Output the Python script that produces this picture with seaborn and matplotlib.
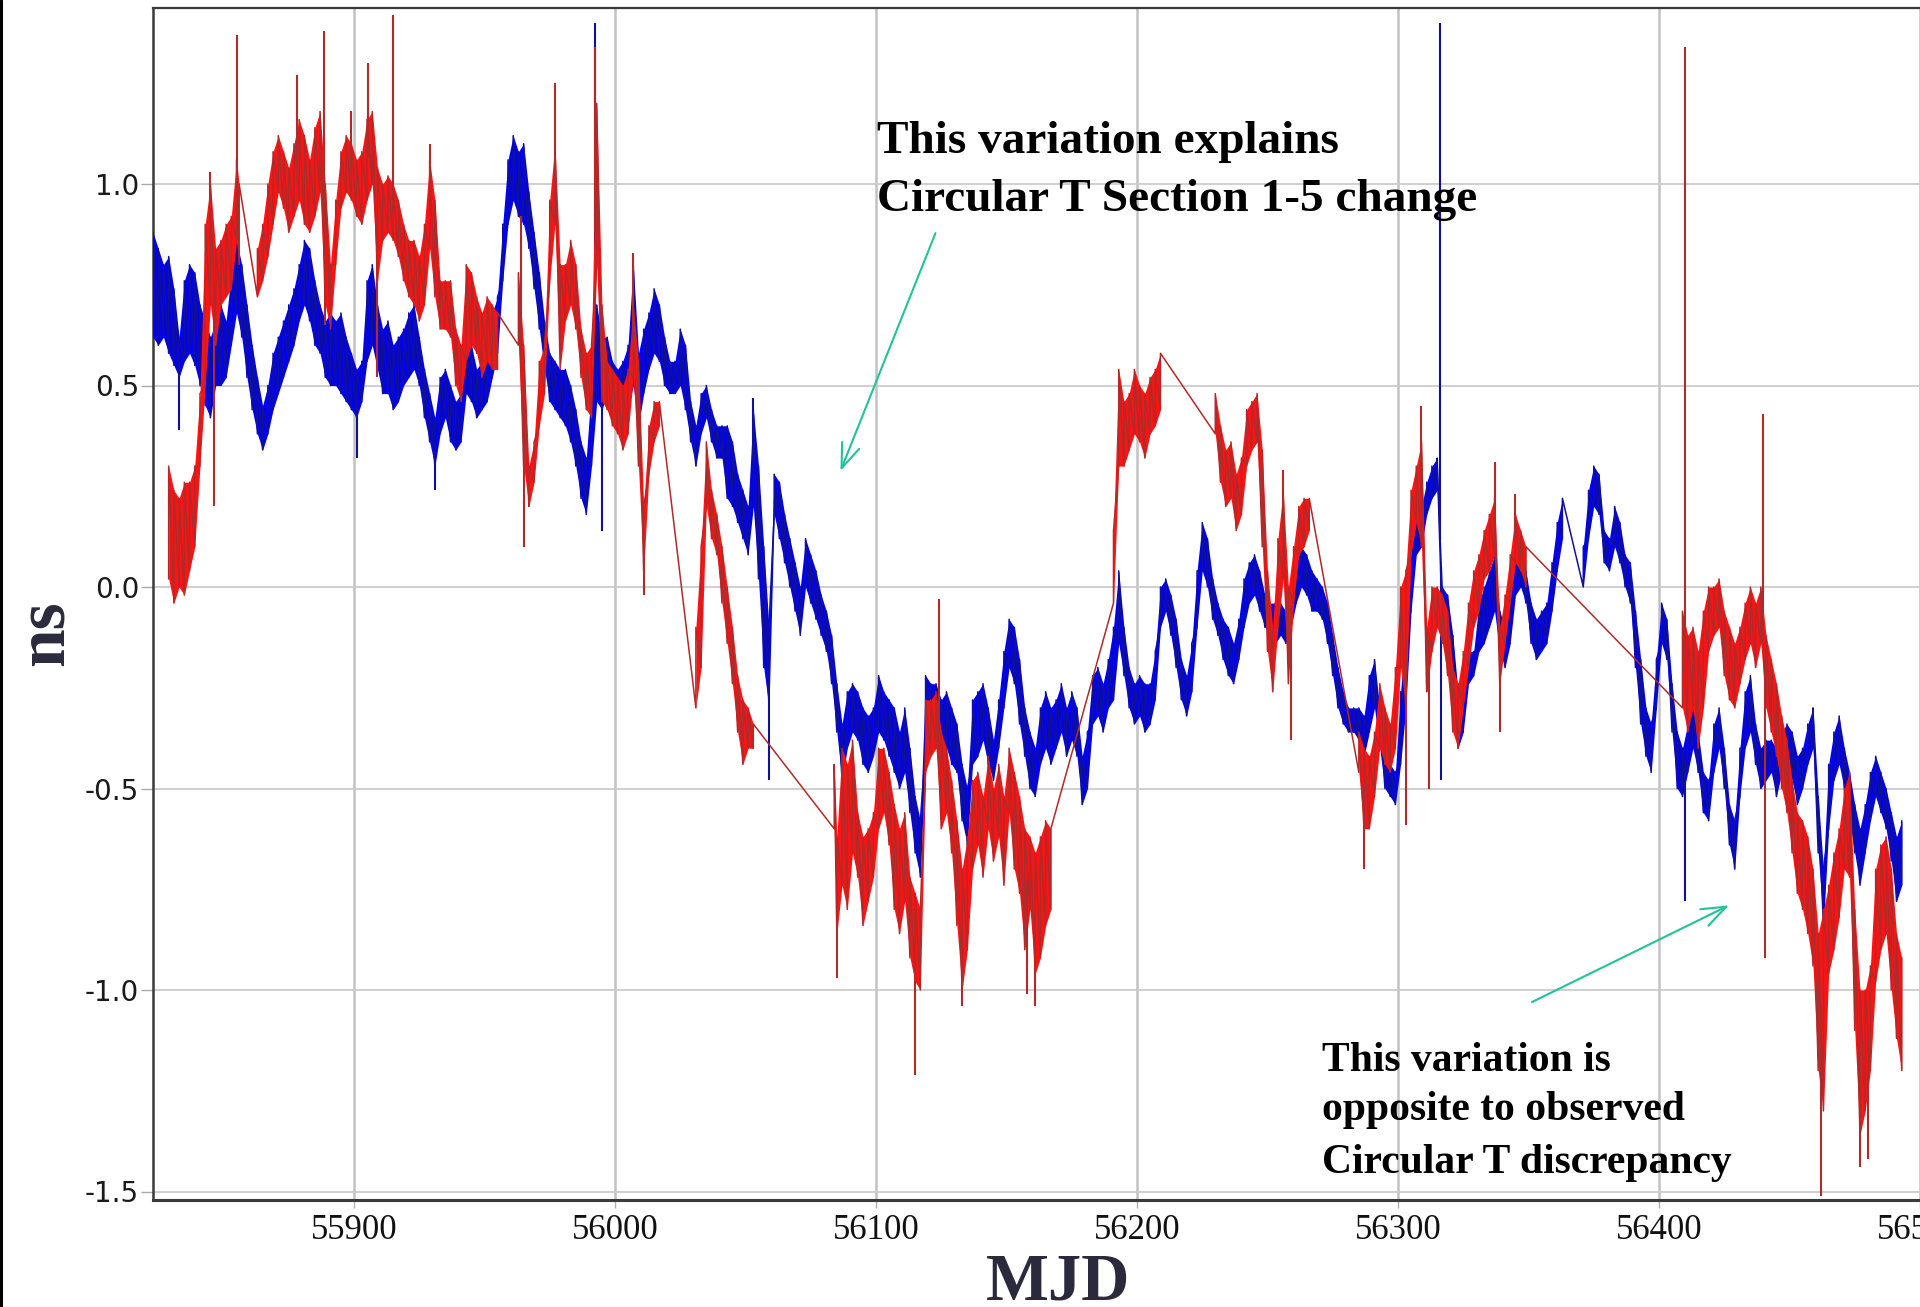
import numpy as np
import pandas as pd
import matplotlib
matplotlib.use("Agg")
import matplotlib.pyplot as plt
import seaborn as sns
from matplotlib.lines import Line2D

sns.set_theme(style="white")
plt.rcParams["font.family"] = ["Liberation Serif", "DejaVu Serif"]

# ---------------- data ----------------
# blue series: (MJD, low edge of noisy band, high edge) in ns
BLUE_BAND = [
    (55823, 0.62, 0.88), (55825, 0.60, 0.84), (55827, 0.62, 0.80), (55829, 0.58, 0.82), (55831, 0.55, 0.74),
    (55833, 0.52, 0.62), (55835, 0.56, 0.76), (55837, 0.58, 0.80), (55839, 0.55, 0.78), (55841, 0.50, 0.70),
    (55843, 0.45, 0.66), (55845, 0.42, 0.62), (55847, 0.50, 0.66), (55849, 0.50, 0.70), (55851, 0.52, 0.66),
    (55853, 0.60, 0.78), (55855, 0.68, 0.86), (55857, 0.62, 0.80), (55859, 0.52, 0.70), (55861, 0.44, 0.60),
    (55863, 0.38, 0.52), (55865, 0.34, 0.45), (55867, 0.38, 0.50), (55869, 0.44, 0.58), (55871, 0.48, 0.62),
    (55873, 0.52, 0.66), (55875, 0.56, 0.70), (55877, 0.60, 0.74), (55879, 0.66, 0.80), (55881, 0.70, 0.86),
    (55883, 0.66, 0.84), (55885, 0.60, 0.76), (55887, 0.58, 0.70), (55889, 0.52, 0.66), (55891, 0.50, 0.68),
    (55893, 0.50, 0.66), (55895, 0.48, 0.68), (55897, 0.46, 0.62), (55899, 0.44, 0.58), (55901, 0.42, 0.54),
    (55903, 0.46, 0.56), (55905, 0.56, 0.76), (55907, 0.60, 0.80), (55909, 0.54, 0.70), (55911, 0.48, 0.64),
    (55913, 0.48, 0.66), (55915, 0.44, 0.60), (55917, 0.46, 0.62), (55919, 0.50, 0.64), (55921, 0.52, 0.68),
    (55923, 0.54, 0.70), (55925, 0.50, 0.62), (55927, 0.42, 0.54), (55929, 0.36, 0.48), (55931, 0.30, 0.42),
    (55933, 0.38, 0.52), (55935, 0.42, 0.54), (55937, 0.36, 0.50), (55939, 0.34, 0.46), (55941, 0.36, 0.48),
    (55943, 0.48, 0.62), (55945, 0.46, 0.60), (55947, 0.42, 0.54), (55949, 0.44, 0.56), (55951, 0.46, 0.62),
    (55953, 0.52, 0.68), (55955, 0.58, 0.72), (55957, 0.76, 0.90), (55959, 0.90, 1.06), (55961, 0.96, 1.12),
    (55963, 0.92, 1.08), (55965, 0.90, 1.10), (55967, 0.84, 0.98), (55969, 0.74, 0.88), (55971, 0.64, 0.78),
    (55973, 0.54, 0.66), (55975, 0.46, 0.58), (55977, 0.44, 0.56), (55979, 0.42, 0.54), (55981, 0.40, 0.54),
    (55983, 0.36, 0.50), (55985, 0.30, 0.44), (55987, 0.22, 0.36), (55989, 0.18, 0.32), (55991, 0.30, 0.50),
    (55993, 0.46, 0.70), (55995, 0.44, 0.62), (55997, 0.48, 0.62), (55999, 0.46, 0.56), (56001, 0.42, 0.54),
    (56003, 0.40, 0.56), (56005, 0.44, 0.60), (56007, 0.50, 0.80), (56009, 0.40, 0.58), (56011, 0.48, 0.64),
    (56013, 0.54, 0.68), (56015, 0.58, 0.74), (56017, 0.56, 0.70), (56019, 0.50, 0.62), (56021, 0.48, 0.56),
    (56023, 0.48, 0.56), (56025, 0.50, 0.64), (56027, 0.44, 0.60), (56029, 0.36, 0.46), (56031, 0.30, 0.40),
    (56033, 0.38, 0.48), (56035, 0.42, 0.50), (56037, 0.36, 0.44), (56039, 0.32, 0.40), (56041, 0.32, 0.40),
    (56043, 0.22, 0.40), (56045, 0.20, 0.36), (56047, 0.16, 0.28), (56049, 0.12, 0.24), (56051, 0.08, 0.20),
    (56053, 0.20, 0.44), (56055, 0.02, 0.30), (56057, -0.20, 0.10), (56059, -0.30, -0.10), (56061, 0.18, 0.28),
    (56063, 0.12, 0.26), (56065, 0.06, 0.18), (56067, 0.00, 0.12), (56069, -0.06, 0.06), (56071, -0.12, 0.00),
    (56073, 0.00, 0.12), (56075, -0.04, 0.08), (56077, -0.08, 0.04), (56079, -0.12, -0.02), (56081, -0.16, -0.06),
    (56083, -0.24, -0.12), (56085, -0.36, -0.24), (56087, -0.48, -0.34), (56089, -0.40, -0.26), (56091, -0.36, -0.24),
    (56093, -0.38, -0.26), (56095, -0.44, -0.30), (56097, -0.46, -0.32), (56099, -0.42, -0.30), (56101, -0.36, -0.22),
    (56103, -0.38, -0.26), (56105, -0.42, -0.28), (56107, -0.46, -0.30), (56109, -0.50, -0.36), (56111, -0.46, -0.30),
    (56113, -0.56, -0.40), (56115, -0.66, -0.52), (56117, -0.72, -0.58), (56119, -0.40, -0.22), (56121, -0.36, -0.24),
    (56123, -0.36, -0.24), (56125, -0.42, -0.28), (56127, -0.40, -0.26), (56129, -0.44, -0.30), (56131, -0.46, -0.34),
    (56133, -0.58, -0.44), (56135, -0.64, -0.50), (56137, -0.44, -0.28), (56139, -0.42, -0.26), (56141, -0.38, -0.24),
    (56143, -0.44, -0.30), (56145, -0.48, -0.38), (56147, -0.40, -0.28), (56149, -0.30, -0.16), (56151, -0.20, -0.08),
    (56153, -0.24, -0.10), (56155, -0.34, -0.18), (56157, -0.42, -0.30), (56159, -0.50, -0.36), (56161, -0.52, -0.40),
    (56163, -0.44, -0.30), (56165, -0.40, -0.26), (56167, -0.44, -0.30), (56169, -0.40, -0.28), (56171, -0.36, -0.24),
    (56173, -0.42, -0.30), (56175, -0.38, -0.26), (56177, -0.42, -0.30), (56179, -0.54, -0.42), (56181, -0.50, -0.36),
    (56183, -0.34, -0.22), (56185, -0.32, -0.20), (56187, -0.36, -0.24), (56189, -0.30, -0.18), (56191, -0.28, -0.10),
    (56193, -0.14, 0.04), (56195, -0.22, -0.10), (56197, -0.30, -0.20), (56199, -0.34, -0.24), (56201, -0.32, -0.22),
    (56203, -0.36, -0.24), (56205, -0.34, -0.24), (56207, -0.28, -0.16), (56209, -0.10, 0.00), (56211, -0.06, 0.02),
    (56213, -0.12, -0.02), (56215, -0.20, -0.08), (56217, -0.28, -0.18), (56219, -0.32, -0.22), (56221, -0.26, -0.14),
    (56223, -0.10, 0.04), (56225, 0.04, 0.16), (56227, 0.00, 0.12), (56229, -0.08, 0.02), (56231, -0.12, -0.04),
    (56233, -0.18, -0.08), (56235, -0.22, -0.10), (56237, -0.24, -0.14), (56239, -0.18, -0.08), (56241, -0.10, 0.02),
    (56243, -0.04, 0.06), (56245, -0.02, 0.08), (56247, -0.06, 0.04), (56249, -0.10, -0.02), (56251, -0.12, -0.04),
    (56253, -0.14, -0.04), (56255, -0.12, -0.04), (56257, -0.14, -0.06), (56259, -0.10, 0.00), (56261, -0.04, 0.06),
    (56263, 0.00, 0.10), (56265, -0.02, 0.08), (56267, -0.06, 0.04), (56269, -0.06, 0.02), (56271, -0.08, 0.00),
    (56273, -0.14, -0.04), (56275, -0.22, -0.12), (56277, -0.30, -0.20), (56279, -0.34, -0.26), (56281, -0.36, -0.30),
    (56283, -0.36, -0.30), (56285, -0.38, -0.30), (56287, -0.42, -0.32), (56289, -0.36, -0.22), (56291, -0.30, -0.18),
    (56293, -0.40, -0.30), (56295, -0.50, -0.44), (56297, -0.52, -0.44), (56299, -0.54, -0.46), (56301, -0.44, -0.26),
    (56303, -0.30, -0.10), (56305, -0.06, 0.10), (56307, 0.08, 0.16), (56309, 0.10, 0.20), (56311, 0.18, 0.26),
    (56313, 0.22, 0.30), (56315, 0.24, 0.32), (56317, -0.10, 0.00), (56319, -0.12, -0.02), (56321, -0.24, -0.12),
    (56323, -0.40, -0.26), (56325, -0.36, -0.24), (56327, -0.24, -0.16), (56329, -0.22, -0.16), (56331, -0.16, -0.04),
    (56333, -0.14, 0.00), (56335, -0.10, 0.04), (56337, -0.06, 0.08), (56339, -0.16, -0.06), (56341, -0.20, -0.10),
    (56343, -0.14, -0.02), (56345, -0.02, 0.08), (56347, 0.00, 0.08), (56349, -0.04, 0.04), (56351, -0.14, -0.04),
    (56353, -0.18, -0.08), (56355, -0.16, -0.06), (56357, -0.14, -0.04), (56359, -0.06, 0.06), (56361, 0.04, 0.16),
    (56363, 0.12, 0.22), (56371, 0.00, 0.10), (56373, 0.12, 0.24), (56375, 0.20, 0.30), (56377, 0.18, 0.28),
    (56379, 0.06, 0.14), (56381, 0.04, 0.12), (56383, 0.10, 0.20), (56385, 0.06, 0.16), (56387, 0.00, 0.08),
    (56389, -0.04, 0.06), (56391, -0.20, -0.06), (56393, -0.34, -0.18), (56395, -0.42, -0.30), (56397, -0.46, -0.34),
    (56399, -0.30, -0.18), (56401, -0.14, -0.04), (56403, -0.18, -0.08), (56405, -0.36, -0.24), (56407, -0.50, -0.36),
    (56409, -0.52, -0.40), (56411, -0.46, -0.34), (56413, -0.40, -0.30), (56415, -0.46, -0.36), (56417, -0.56, -0.46),
    (56419, -0.58, -0.48), (56421, -0.46, -0.34), (56423, -0.40, -0.30), (56425, -0.50, -0.40), (56427, -0.64, -0.54),
    (56429, -0.70, -0.58), (56431, -0.52, -0.40), (56433, -0.40, -0.26), (56435, -0.36, -0.22), (56437, -0.44, -0.34),
    (56439, -0.50, -0.40), (56441, -0.48, -0.38), (56443, -0.46, -0.38), (56445, -0.52, -0.40), (56447, -0.46, -0.36),
    (56449, -0.42, -0.34), (56451, -0.48, -0.36), (56453, -0.54, -0.42), (56455, -0.50, -0.40), (56457, -0.44, -0.34),
    (56459, -0.40, -0.30), (56461, -0.66, -0.52), (56463, -0.84, -0.70), (56465, -0.60, -0.44), (56467, -0.48, -0.36),
    (56469, -0.44, -0.32), (56471, -0.50, -0.40), (56473, -0.58, -0.46), (56475, -0.66, -0.54), (56477, -0.74, -0.60),
    (56479, -0.66, -0.54), (56481, -0.58, -0.46), (56483, -0.52, -0.42), (56485, -0.56, -0.46), (56487, -0.60, -0.50),
    (56489, -0.68, -0.56), (56491, -0.78, -0.62), (56493, -0.74, -0.58),
]
# isolated blue spikes: (MJD, tip value)
BLUE_SPIKES = [
    (55833, 0.39), (55901, 0.32), (55931, 0.24), (55992.5, 1.40), (55995, 0.14),
    (56053, 0.47), (56059, -0.48), (56316, 1.40), (56316.4, -0.48), (56410, -0.78),
]

# red series (gaps are bridged by straight connecting lines)
RED_BAND = [
    (55829, 0.02, 0.30), (55831, -0.04, 0.24), (55833, 0.00, 0.22), (55835, -0.02, 0.26), (55837, 0.04, 0.26),
    (55839, 0.10, 0.30), (55841, 0.30, 0.48), (55843, 0.50, 0.90), (55845, 0.70, 1.00), (55847, 0.60, 0.84),
    (55849, 0.70, 0.86), (55851, 0.72, 0.90), (55853, 0.74, 0.92), (55855, 0.86, 1.06), (55856, 0.80, 1.00),
    (55863, 0.72, 0.84), (55865, 0.76, 0.90), (55867, 0.82, 1.00), (55869, 0.90, 1.08), (55871, 0.98, 1.12),
    (55873, 0.94, 1.08), (55875, 0.88, 1.04), (55877, 0.92, 1.10), (55879, 0.96, 1.16), (55881, 0.90, 1.12),
    (55883, 0.88, 1.06), (55885, 0.92, 1.14), (55887, 0.98, 1.18), (55889, 0.70, 1.00), (55891, 0.64, 0.80),
    (55893, 0.80, 0.96), (55895, 0.94, 1.08), (55897, 0.98, 1.12), (55899, 0.96, 1.10), (55901, 0.92, 1.06),
    (55903, 0.90, 1.08), (55905, 0.96, 1.16), (55907, 1.00, 1.18), (55909, 0.76, 1.04), (55911, 0.86, 1.00),
    (55913, 0.88, 1.02), (55915, 0.86, 1.00), (55917, 0.82, 0.96), (55919, 0.76, 0.90), (55921, 0.72, 0.86),
    (55923, 0.70, 0.86), (55925, 0.66, 0.82), (55927, 0.70, 0.90), (55929, 0.84, 1.06), (55931, 0.72, 0.96),
    (55933, 0.64, 0.76), (55935, 0.64, 0.76), (55937, 0.62, 0.76), (55939, 0.50, 0.64), (55941, 0.46, 0.60),
    (55943, 0.56, 0.80), (55945, 0.60, 0.78), (55947, 0.58, 0.72), (55949, 0.52, 0.68), (55951, 0.56, 0.72),
    (55953, 0.54, 0.70), (55955, 0.54, 0.68), (55963, 0.60, 0.78), (55965, 0.30, 0.60), (55967, 0.20, 0.30),
    (55969, 0.26, 0.36), (55971, 0.40, 0.56), (55973, 0.48, 0.60), (55975, 0.76, 0.96), (55977, 0.90, 1.10),
    (55979, 0.54, 0.80), (55981, 0.66, 0.80), (55983, 0.70, 0.86), (55985, 0.64, 0.80), (55987, 0.52, 0.64),
    (55989, 0.44, 0.58), (55991, 0.42, 0.60), (55993, 0.80, 1.20), (55995, 0.46, 0.70), (55997, 0.44, 0.56),
    (55999, 0.40, 0.54), (56001, 0.38, 0.52), (56003, 0.34, 0.50), (56005, 0.38, 0.54), (56007, 0.52, 0.70),
    (56009, 0.30, 0.56), (56011, 0.04, 0.20), (56013, 0.28, 0.40), (56015, 0.36, 0.46), (56017, 0.40, 0.46),
    (56031, -0.30, -0.10), (56033, -0.20, 0.10), (56035, 0.20, 0.36), (56037, 0.12, 0.24), (56039, 0.08, 0.18),
    (56041, -0.04, 0.10), (56043, -0.14, 0.00), (56045, -0.24, -0.10), (56047, -0.36, -0.22), (56049, -0.44, -0.28),
    (56051, -0.40, -0.30), (56053, -0.40, -0.34), (56084, -0.60, -0.44), (56085, -0.86, -0.62), (56087, -0.74, -0.40),
    (56089, -0.80, -0.44), (56091, -0.66, -0.38), (56093, -0.72, -0.56), (56095, -0.84, -0.62), (56097, -0.78, -0.60),
    (56099, -0.72, -0.56), (56101, -0.60, -0.40), (56103, -0.56, -0.40), (56105, -0.64, -0.46), (56107, -0.80, -0.54),
    (56109, -0.86, -0.60), (56111, -0.78, -0.56), (56113, -0.92, -0.72), (56115, -0.98, -0.76), (56117, -1.00, -0.80),
    (56119, -0.46, -0.28), (56121, -0.42, -0.28), (56123, -0.40, -0.26), (56125, -0.60, -0.36), (56127, -0.56, -0.40),
    (56129, -0.66, -0.48), (56131, -0.84, -0.58), (56133, -1.00, -0.70), (56135, -0.90, -0.62), (56137, -0.70, -0.48),
    (56139, -0.64, -0.46), (56141, -0.72, -0.52), (56143, -0.60, -0.42), (56145, -0.68, -0.50), (56147, -0.62, -0.44),
    (56149, -0.74, -0.52), (56151, -0.56, -0.40), (56153, -0.70, -0.46), (56155, -0.76, -0.52), (56157, -0.90, -0.60),
    (56159, -0.80, -0.62), (56161, -0.96, -0.66), (56163, -0.92, -0.62), (56165, -0.84, -0.58), (56167, -0.80, -0.60),
    (56191, -0.04, 0.14), (56193, 0.30, 0.54), (56195, 0.30, 0.46), (56197, 0.34, 0.48), (56199, 0.38, 0.54),
    (56201, 0.36, 0.50), (56203, 0.32, 0.48), (56205, 0.38, 0.52), (56207, 0.40, 0.54), (56209, 0.44, 0.58),
    (56230, 0.38, 0.48), (56232, 0.26, 0.40), (56234, 0.20, 0.34), (56236, 0.22, 0.36), (56238, 0.14, 0.28),
    (56240, 0.18, 0.32), (56242, 0.30, 0.44), (56244, 0.34, 0.46), (56246, 0.36, 0.48), (56248, 0.10, 0.34),
    (56250, -0.16, 0.04), (56252, -0.26, -0.10), (56254, -0.10, 0.12), (56256, 0.02, 0.24), (56258, -0.24, 0.00),
    (56260, -0.04, 0.10), (56262, 0.08, 0.20), (56264, 0.10, 0.22), (56266, 0.14, 0.22), (56285, -0.46, -0.36),
    (56287, -0.60, -0.40), (56289, -0.60, -0.42), (56291, -0.52, -0.36), (56293, -0.40, -0.24), (56295, -0.44, -0.30),
    (56297, -0.46, -0.34), (56299, -0.40, -0.20), (56301, -0.20, 0.00), (56303, -0.30, 0.04), (56305, 0.08, 0.24),
    (56307, 0.16, 0.30), (56309, 0.10, 0.36), (56311, -0.26, -0.10), (56313, -0.16, 0.00), (56315, -0.10, 0.00),
    (56317, -0.14, -0.02), (56319, -0.22, -0.06), (56321, -0.36, -0.20), (56323, -0.40, -0.24), (56325, -0.30, -0.16),
    (56327, -0.20, -0.04), (56329, -0.10, 0.04), (56331, -0.06, 0.08), (56333, 0.02, 0.14), (56335, 0.04, 0.18),
    (56337, 0.08, 0.22), (56339, -0.24, -0.10), (56341, -0.14, -0.02), (56343, -0.04, 0.08), (56345, 0.06, 0.18),
    (56347, 0.04, 0.14), (56349, 0.00, 0.10), (56409, -0.30, -0.06), (56411, -0.36, -0.12), (56413, -0.30, -0.10),
    (56415, -0.40, -0.16), (56417, -0.30, -0.06), (56419, -0.16, 0.00), (56421, -0.12, 0.00), (56423, -0.10, 0.02),
    (56425, -0.22, -0.06), (56427, -0.28, -0.10), (56429, -0.30, -0.14), (56431, -0.24, -0.10), (56433, -0.18, -0.04),
    (56435, -0.14, 0.00), (56437, -0.20, -0.04), (56439, -0.14, 0.00), (56441, -0.30, -0.12), (56443, -0.36, -0.18),
    (56445, -0.42, -0.24), (56447, -0.50, -0.32), (56449, -0.56, -0.38), (56451, -0.66, -0.48), (56453, -0.76, -0.56),
    (56455, -0.80, -0.58), (56457, -0.86, -0.62), (56459, -0.94, -0.70), (56461, -1.20, -0.86), (56463, -1.30, -0.80),
    (56465, -0.96, -0.74), (56467, -0.90, -0.66), (56469, -0.82, -0.60), (56471, -0.70, -0.50), (56473, -0.72, -0.46),
    (56475, -1.10, -0.80), (56477, -1.36, -1.00), (56479, -1.30, -1.00), (56481, -1.20, -0.94), (56483, -0.98, -0.70),
    (56485, -0.90, -0.64), (56487, -0.86, -0.62), (56489, -1.00, -0.70), (56491, -1.12, -0.86), (56493, -1.20, -0.92),
]
RED_SPIKES = [
    (55846.5, 0.20), (55845, 1.03), (55855, 1.37), (55878, 1.27), (55888.6, 1.38), (55889, 0.65),
    (55899, 1.18), (55905.3, 1.30), (55909, 0.52), (55915, 1.42), (55929, 1.10), (55965, 0.10),
    (55964, 0.92), (55977, 1.25), (55992.5, 1.34), (56007, 0.83), (56011, -0.02), (56085, -0.97),
    (56115, -1.21), (56124, -0.03), (56133, -1.04), (56158, -1.01), (56161, -1.04), (56256, 0.29),
    (56259, -0.38), (56287, -0.70), (56303, -0.59), (56309, 0.45), (56312, -0.50), (56337, 0.31),
    (56339, -0.36), (56345, 0.23), (56410, 1.34), (56440, 0.43), (56440.6, -0.92), (56462, -1.51),
    (56477, -1.44), (56480, -1.42),
]

X_TICKS = [55900, 56000, 56100, 56200, 56300, 56400, 56500]
Y_TICKS = [-1.5, -1.0, -0.5, 0.0, 0.5, 1.0]
Y_TICK_LABELS = ["-1.5", "-1.0", "-0.5", "0.0", "0.5", "1.0"]
X_LABEL = "MJD"
Y_LABEL = "ns"
NOTE_1 = ["This variation explains", "Circular T Section 1-5 change"]
NOTE_2 = ["This variation is", "opposite to observed", "Circular T discrepancy"]

# ---------------- figure ----------------
W, H = 1920, 1307
fig = plt.figure(figsize=(W / 100, H / 100), dpi=100)
fig.patch.set_facecolor("white")
ax = fig.add_axes([153 / W, 1 - 1200 / H, 1 - 153 / W, (1200 - 8) / H])
ax.set_facecolor("white")


def draw_series(band, spikes, fill, edge, z):
    mjd = np.array([b[0] for b in band], float)
    lo = np.array([b[1] for b in band], float)
    hi = np.array([b[2] for b in band], float)
    df = pd.DataFrame({"MJD": np.repeat(mjd, 2),
                       "ns": np.column_stack([lo, hi]).ravel()})
    breaks = np.where(np.diff(mjd) > 4)[0] + 1
    for seg in np.split(np.arange(len(mjd)), breaks):
        if len(seg) > 1:
            ax.fill_between(mjd[seg], lo[seg], hi[seg], color=fill, lw=0, zorder=z)
    sns.lineplot(data=df, x="MJD", y="ns", sort=False, estimator=None,
                 color=edge, lw=1.1, ax=ax, zorder=z + 0.1)
    smjd = np.array([s[0] for s in spikes], float)
    sval = np.array([s[1] for s in spikes], float)
    base = np.interp(smjd, mjd, (lo + hi) / 2)
    ax.vlines(smjd, base, sval, color=edge, lw=1.5, zorder=z + 0.2)


draw_series(BLUE_BAND, BLUE_SPIKES, "#0000f2", "#10109a", 3)
draw_series(RED_BAND, RED_SPIKES, "#ff1212", "#b02a2a", 4)

ax.set_xlim(55823, 56493.6)
ax.set_ylim((587 - 1200) / 403, (587 - 8) / 403)
ax.set_xticks(X_TICKS)
ax.set_xticklabels([str(t) for t in X_TICKS])
ax.set_yticks(Y_TICKS)
ax.set_yticklabels(Y_TICK_LABELS)
ax.grid(axis="x", color="#c2c2c2", lw=1.8, zorder=0)
ax.grid(axis="y", color="#cbcbcb", lw=1.3, zorder=0)
ax.set_axisbelow(True)
ax.set_xlabel("")
ax.set_ylabel("")

for lab in ax.get_xticklabels():
    lab.set_fontfamily(["Liberation Serif", "DejaVu Serif"])
    lab.set_fontsize(25)
    lab.set_color("#111111")
for lab in ax.get_yticklabels():
    lab.set_fontfamily(["DejaVu Sans"])
    lab.set_fontsize(20)
    lab.set_color("#1a1a1a")
ax.tick_params(axis="x", which="both", direction="out", length=6, width=1,
               color="#b0b0b0", pad=4, bottom=True)
ax.tick_params(axis="y", which="both", direction="out", length=8.5, width=1,
               color="#aaaaaa", pad=1.5, left=True)

for side in ["top", "bottom", "left"]:
    ax.spines[side].set_visible(True)
    ax.spines[side].set_color("#3a3a3a")
ax.spines["top"].set_linewidth(1.6)
ax.spines["bottom"].set_linewidth(2.2)
ax.spines["left"].set_linewidth(1.8)
ax.spines["right"].set_visible(False)

# axis titles
fig.text(46 / W, 1 - 633 / H, Y_LABEL, rotation=90, ha="center", va="center",
         fontsize=50, fontweight="bold", color="#2a2a3c",
         family=["Liberation Serif", "DejaVu Serif"])
fig.text(1058 / W, 1 - 1300 / H, X_LABEL, ha="center", va="baseline",
         fontsize=48, fontweight="bold", color="#2a2a3c",
         family=["Liberation Serif", "DejaVu Serif"])

# annotations
for txt, yv in zip(NOTE_1, [1.077, 0.933]):
    ax.text(56100.5, yv, txt, ha="left", va="baseline", fontsize=34,
            fontweight="bold", color="black", zorder=10,
            family=["Liberation Serif", "DejaVu Serif"])
for txt, yv in zip(NOTE_2, [-1.200, -1.323, -1.454]):
    ax.text(56270.7, yv, txt, ha="left", va="baseline", fontsize=30,
            fontweight="bold", color="black", zorder=10,
            family=["Liberation Serif", "DejaVu Serif"])

arrow_kw = dict(arrowstyle="->,head_length=0.8,head_width=0.3", color="#22c29a",
                lw=1.5, mutation_scale=22, shrinkA=0, shrinkB=0)
ax.annotate("", xy=(56086.4, 0.288), xytext=(56122.8, 0.878),
            arrowprops=arrow_kw, zorder=11)
ax.annotate("", xy=(56426.8, -0.79), xytext=(56351.3, -1.03),
            arrowprops=arrow_kw, zorder=11)

# screenshot border at the far left
fig.add_artist(Line2D([1.2 / W, 1.2 / W], [0, 1], transform=fig.transFigure,
                      color="black", lw=2.2))

fig.savefig("out.png", dpi=100, facecolor="white")
